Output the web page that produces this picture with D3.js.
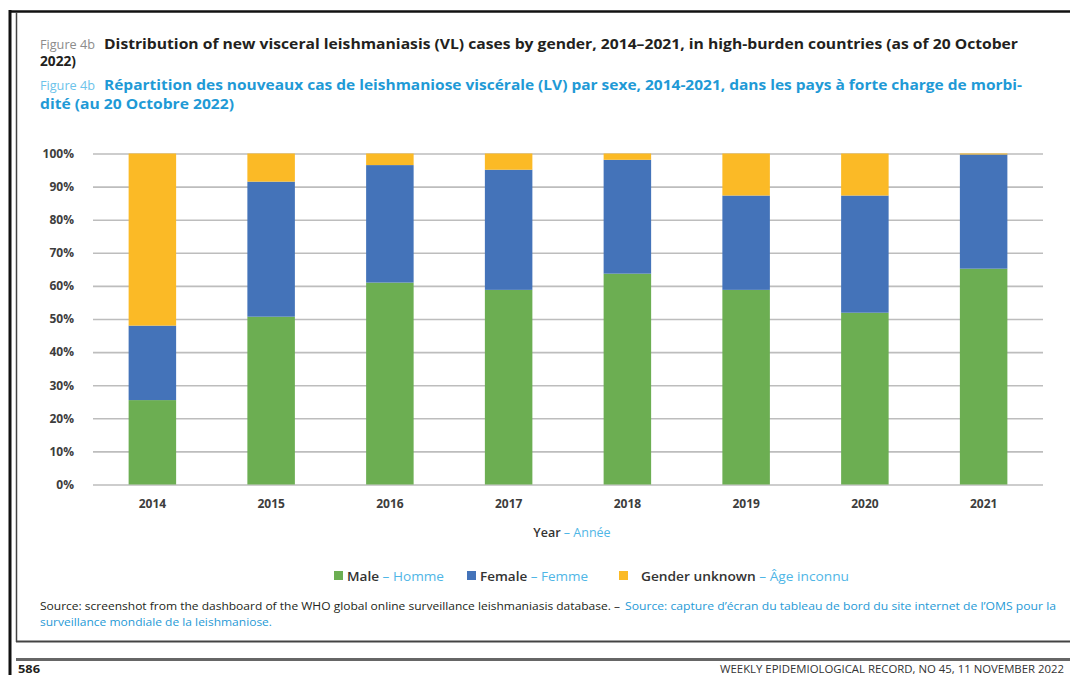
<!DOCTYPE html>
<html>
<head>
<meta charset="utf-8">
<script src="https://cdn.jsdelivr.net/npm/d3@7/dist/d3.min.js"></script>
<style>
  html, body { margin: 0; padding: 0; background: #fff; }
  svg { display: block; }
  text { font-family: "Open Sans", "Noto Sans", sans-serif; }
</style>
</head>
<body>
<svg id="chart" width="1070" height="675"></svg>
<script>
// Share of new VL cases by gender (%), high-burden countries
const years = ["2014", "2015", "2016", "2017", "2018", "2019", "2020", "2021"];
const male = [25.5, 50.7, 61.0, 58.8, 63.7, 58.8, 51.9, 65.2];
const female = [22.5, 40.8, 35.5, 36.3, 34.4, 28.5, 35.4, 34.5];
const unknown = [52.0, 8.5, 3.5, 4.9, 1.9, 12.7, 12.7, 0.3];
const yTicks = [0, 10, 20, 30, 40, 50, 60, 70, 80, 90, 100];

const seriesKeys = ["male", "female", "unknown"];
const seriesColors = { male: "#6cae52", female: "#4473b9", unknown: "#fbba26" };
const legendItems = [
  { key: "male", en: "Male", fr: "Homme" },
  { key: "female", en: "Female", fr: "Femme" },
  { key: "unknown", en: "Gender unknown", fr: "Âge inconnu" }
];

const DARK = "#231f20";
const BLUE = "#1f9ad6";
const svg = d3.select("#chart");

// ---- page frame ----
const frame = svg.append("g");
frame.append("line").attr("x1", 10).attr("x2", 1070).attr("y1", 11.5).attr("y2", 11.5)
  .attr("stroke", "#111").attr("stroke-width", 2.5);
frame.append("line").attr("x1", 10).attr("x2", 10).attr("y1", 10).attr("y2", 675)
  .attr("stroke", "#111").attr("stroke-width", 3);
frame.append("line").attr("x1", 16.5).attr("x2", 16.5).attr("y1", 12).attr("y2", 642)
  .attr("stroke", "#444").attr("stroke-width", 1.5);
frame.append("line").attr("x1", 16).attr("x2", 1070).attr("y1", 641.5).attr("y2", 641.5)
  .attr("stroke", "#444").attr("stroke-width", 1.8);
frame.append("line").attr("x1", 16).attr("x2", 1070).attr("y1", 659.5).attr("y2", 659.5)
  .attr("stroke", "#666").attr("stroke-width", 3);

// helper: one run of text stretched to a known width
function run(g, str, x, y, len, opts) {
  return g.append("text")
    .attr("x", x).attr("y", y)
    .attr("textLength", len).attr("lengthAdjust", "spacingAndGlyphs")
    .attr("font-size", opts.size)
    .attr("font-weight", opts.weight || "normal")
    .attr("fill", opts.color)
    .text(str);
}

// ---- titles ----
const titles = svg.append("g");
run(titles, "Figure 4b", 40, 49, 55, { size: 13, color: "#8c8c8c" });
run(titles, "Distribution of new visceral leishmaniasis (VL) cases by gender, 2014–2021, in high-burden countries (as of 20 October",
  104, 49, 914, { size: 14, weight: "bold", color: DARK });
run(titles, "2022)", 40, 66, 36, { size: 14, weight: "bold", color: DARK });
run(titles, "Figure 4b", 40, 90, 55, { size: 13, color: "#6cc3ea" });
run(titles, "Répartition des nouveaux cas de leishmaniose viscérale (LV) par sexe, 2014-2021, dans les pays à forte charge de morbi-",
  104, 90, 918, { size: 14, weight: "bold", color: BLUE });
run(titles, "dité (au 20 Octobre 2022)", 40, 109, 194, { size: 14, weight: "bold", color: BLUE });

// ---- chart ----
const x = d3.scaleBand().domain(years).range([93, 1043]).paddingInner(0.6).paddingOuter(0.3);
const y = d3.scaleLinear().domain([0, 100]).range([484.5, 153.5]);

const rows = years.map((yr, i) => ({ year: yr, male: male[i], female: female[i], unknown: unknown[i] }));
const stacked = d3.stack().keys(seriesKeys)(rows);

// gridlines
svg.append("g")
  .attr("transform", "translate(93,0)")
  .call(d3.axisLeft(y).tickValues(yTicks).tickSize(-(1043 - 93)).tickFormat(""))
  .call(g => g.select(".domain").remove())
  .call(g => g.selectAll(".tick line").attr("stroke", "#bdbdbd").attr("stroke-width", 1.6));

// y tick labels
svg.append("g")
  .attr("transform", "translate(74,0)")
  .call(d3.axisLeft(y).tickValues(yTicks).tickSize(0).tickPadding(0).tickFormat(d => d + "%"))
  .call(g => g.select(".domain").remove())
  .call(g => g.selectAll("text")
    .attr("font-family", "'Open Sans', sans-serif")
    .attr("font-size", 12).attr("font-weight", "bold").attr("fill", "#3d3d3d"));

// stacked bars
svg.append("g").selectAll("g").data(stacked).join("g")
  .attr("fill", d => seriesColors[d.key])
  .selectAll("rect").data(d => d).join("rect")
  .attr("x", d => x(d.data.year))
  .attr("width", x.bandwidth())
  .attr("y", d => y(d[1]))
  .attr("height", d => y(d[0]) - y(d[1]));

// x tick labels
svg.append("g")
  .attr("transform", "translate(0,499)")
  .call(d3.axisBottom(x).tickSize(0).tickPadding(0))
  .call(g => g.select(".domain").remove())
  .call(g => g.selectAll("text")
    .attr("font-family", "'Open Sans', sans-serif")
    .attr("font-size", 12).attr("font-weight", "bold").attr("fill", "#3d3d3d"));

// axis title
const axTitle = svg.append("text").attr("x", 572).attr("y", 537).attr("text-anchor", "middle")
  .attr("font-size", 12.5);
axTitle.append("tspan").attr("fill", "#333").attr("font-weight", "600").text("Year");
axTitle.append("tspan").attr("fill", "#4fb6e6").text(" – Année");

// ---- legend ----
const legendX = [334, 467, 619];
const legendTextLen = [97, 108, 208];
const legend = svg.append("g");
legendItems.forEach((it, i) => {
  const g = legend.append("g").attr("transform", `translate(${legendX[i]},576)`);
  g.append("rect").attr("x", 0).attr("y", -5).attr("width", 9).attr("height", 9)
    .attr("fill", seriesColors[it.key]);
  const t = g.append("text").attr("x", 13 + (i === 2 ? 9 : 0)).attr("y", 4.5).attr("font-size", 13)
    .attr("textLength", legendTextLen[i]).attr("lengthAdjust", "spacingAndGlyphs");
  t.append("tspan").attr("fill", "#333").attr("font-weight", "600").text(it.en);
  t.append("tspan").attr("fill", "#4fb6e6").text(" – " + it.fr);
});

// ---- source note ----
const note = svg.append("g");
run(note, "Source: screenshot from the dashboard of the WHO global online surveillance leishmaniasis database. –",
  40, 610, 580, { size: 10.5, color: DARK });
run(note, "Source: capture d’écran du tableau de bord du site internet de l’OMS pour la",
  625, 610, 431, { size: 10.5, color: BLUE });
run(note, "surveillance mondiale de la leishmaniose.", 40, 626, 232, { size: 10.5, color: BLUE });

// ---- page footer ----
run(svg, "586", 18, 673, 22, { size: 11, weight: "bold", color: DARK });
run(svg, "WEEKLY EPIDEMIOLOGICAL RECORD, NO 45, 11 NOVEMBER 2022", 720, 673, 344, { size: 11, color: "#333" });
</script>
</body>
</html>
